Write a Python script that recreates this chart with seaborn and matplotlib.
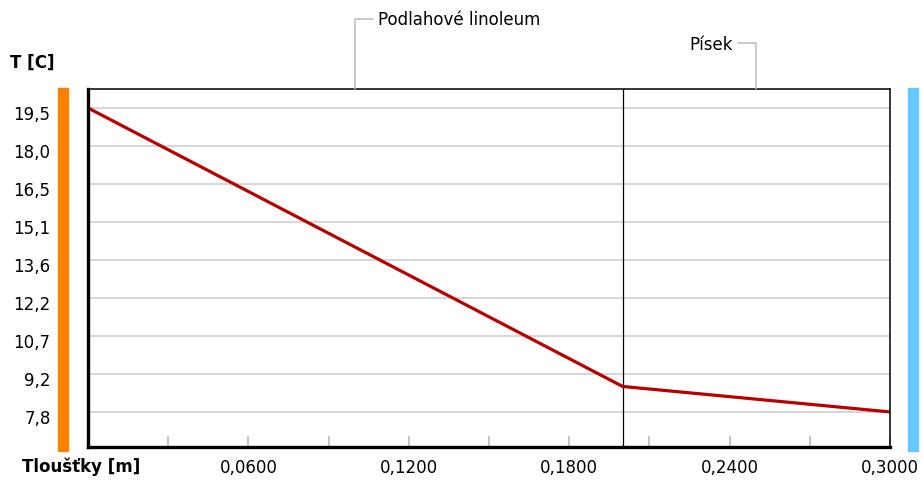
import matplotlib
matplotlib.use("Agg")
import matplotlib.pyplot as plt
import matplotlib.transforms as mtransforms
import seaborn as sns
import pandas as pd
from matplotlib.patches import Rectangle
from matplotlib.lines import Line2D

# ---- data ----
thickness_m = [0.0, 0.2, 0.3]
temperature_c = [19.5, 8.78, 7.8]
layer_names = ["Podlahové linoleum", "Písek"]
layer_bounds = [0.0, 0.2, 0.3]
ytick_values = [7.8, 9.2625, 10.725, 12.1875, 13.65, 15.1125, 16.575, 18.0375, 19.5]
ytick_labels = ["7,8", "9,2", "10,7", "12,2", "13,6", "15,1", "16,5", "18,0", "19,5"]
xtick_major = [0.06, 0.12, 0.18, 0.24, 0.30]
xtick_labels = ["0,0600", "0,1200", "0,1800", "0,2400", "0,3000"]
xtick_minor = [0.03, 0.09, 0.15, 0.21, 0.27]

df = pd.DataFrame({"x": thickness_m, "T": temperature_c})

sns.set_theme(style="white")
plt.rcParams["font.family"] = ["DejaVu Sans"]
plt.rcParams["text.color"] = "black"

W, H = 923, 485
fig = plt.figure(figsize=(W / 100, H / 100), dpi=100)
L, R, T_, B = 88, 890, 90, 448
ax = fig.add_axes([L / W, 1 - B / H, (R - L) / W, (B - T_) / H])

sns.lineplot(data=df, x="x", y="T", ax=ax, color="#B80000", lw=2.3)

ax.set_xlim(0, 0.3)
ax.set_ylim(6.45, 20.23)

for y in ytick_values:
    ax.axhline(y, color="#CCCCCC", lw=1.1, zorder=0)
for b in layer_bounds[1:-1]:
    ax.axvline(b, color="black", lw=0.9, zorder=1)

ax.set_yticks(ytick_values)
ax.set_yticklabels(ytick_labels, fontsize=12, color="black")
ax.tick_params(axis="y", length=0, pad=27)
offset = mtransforms.ScaledTranslation(0, -4 / 100, fig.dpi_scale_trans)
for lab in ax.get_yticklabels():
    lab.set_horizontalalignment("right")
    lab.set_transform(lab.get_transform() + offset)

ax.set_xticks(xtick_major)
ax.set_xticklabels(xtick_labels, fontsize=12, color="black")
ax.set_xticks(xtick_minor, minor=True)
ax.tick_params(axis="x", which="both", bottom=True, direction="in", length=8, width=1.2,
               color="#BBBBBB", pad=8)
ax.set_xlabel("")
ax.set_ylabel("")

for s in ["left", "bottom"]:
    ax.spines[s].set_linewidth(2.4)
    ax.spines[s].set_color("black")
for s in ["top", "right"]:
    ax.spines[s].set_linewidth(1.1)
    ax.spines[s].set_color("black")

# side bars
fig.patches.append(Rectangle((58 / W, 1 - 452 / H), 10 / W, 363 / H,
                             transform=fig.transFigure, color="#FF8000", zorder=0))
fig.patches.append(Rectangle((908 / W, 1 - 452 / H), 10 / W, 363 / H,
                             transform=fig.transFigure, color="#66C8FF", zorder=0))

# axis titles
fig.text(10 / W, 1 - 63 / H, "T [C]", fontsize=12, fontweight="bold", va="center", ha="left")
fig.text(22 / W, 1 - 467 / H, "Tloušťky [m]", fontsize=12, fontweight="bold", va="center", ha="left")

# layer labels with connectors
gray = "#BBBBBB"
mid0 = (layer_bounds[0] + layer_bounds[1]) / 2
mid1 = (layer_bounds[1] + layer_bounds[2]) / 2
x0 = ax.transData.transform((mid0, 0))[0]
fig.lines.append(Line2D([x0 / W, x0 / W, (x0 + 18) / W],
                        [1 - T_ / H, 1 - 20 / H, 1 - 20 / H],
                        transform=fig.transFigure, color=gray, lw=1.1))
fig.text((x0 + 23) / W, 1 - 20 / H, layer_names[0], fontsize=12, va="center", ha="left")
x1 = ax.transData.transform((mid1, 0))[0]
fig.lines.append(Line2D([x1 / W, x1 / W, (x1 - 18) / W],
                        [1 - T_ / H, 1 - 44 / H, 1 - 44 / H],
                        transform=fig.transFigure, color=gray, lw=1.1))
fig.text((x1 - 23) / W, 1 - 45 / H, layer_names[1], fontsize=12, va="center", ha="right")

fig.savefig("out.png", dpi=100)
